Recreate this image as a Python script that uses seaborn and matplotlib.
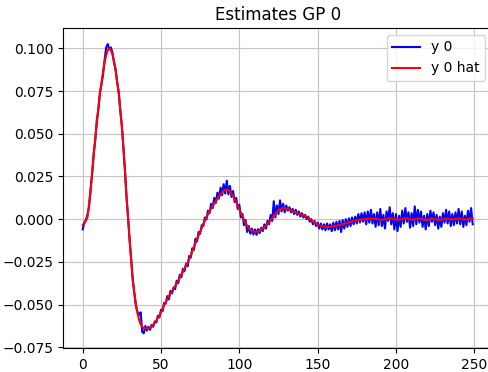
import matplotlib
matplotlib.use("Agg")
import matplotlib.pyplot as plt
import seaborn as sns
import pandas as pd
import numpy as np

steps = list(range(250))

y0 = [
    -0.0060, -0.0020, -0.0005, 0.0025, 0.0070, 0.0175, 0.0260, 0.0385, 0.0460, 0.0580,
    0.0640, 0.0745, 0.0790, 0.0845, 0.0935, 0.1005, 0.1025, 0.0995, 0.1005, 0.0975,
    0.0915, 0.0880, 0.0800, 0.0745, 0.0635, 0.0548, 0.0415, 0.0285, 0.0125, 0.0008,
    -0.0130, -0.0238, -0.0362, -0.0432, -0.0508, -0.0545, -0.0560, -0.0545, -0.0660, -0.0668,
    -0.0625, -0.0652, -0.0630, -0.0648, -0.0618, -0.0630, -0.0598, -0.0605, -0.0565, -0.0575,
    -0.0530, -0.0538, -0.0490, -0.0495, -0.0450, -0.0470, -0.0420, -0.0435, -0.0400, -0.0410,
    -0.0360, -0.0375, -0.0325, -0.0340, -0.0290, -0.0305, -0.0260, -0.0275, -0.0215, -0.0225,
    -0.0170, -0.0180, -0.0115, -0.0130, -0.0075, -0.0085, -0.0035, -0.0040, 0.0010, -0.0002,
    0.0050, 0.0035, 0.0090, 0.0065, 0.0125, 0.0095, 0.0155, 0.0120, 0.0185, 0.0140,
    0.0205, 0.0150, 0.0225, 0.0145, 0.0195, 0.0130, 0.0165, 0.0100, 0.0125, 0.0060,
    0.0085, 0.0010, 0.0030, -0.0035, -0.0005, -0.0075, -0.0040, -0.0085, -0.0055, -0.0090,
    -0.0060, -0.0092, -0.0058, -0.0082, -0.0050, -0.0070, -0.0030, -0.0055, -0.0010, -0.0030,
    0.0025, -0.0010, 0.0105, 0.0010, 0.0080, 0.0030, 0.0110, 0.0045, 0.0090, 0.0040,
    0.0080, 0.0050, 0.0070, 0.0040, 0.0060, 0.0030, 0.0055, 0.0025, 0.0045, 0.0015,
    0.0035, 0.0010, 0.0025, 0.0000, 0.0015, -0.0015, 0.0000, -0.0030, -0.0010, -0.0040,
    -0.0020, -0.0055, -0.0025, -0.0060, -0.0030, -0.0065, -0.0025, -0.0060, -0.0030, -0.0070,
    -0.0020, -0.0065, -0.0015, -0.0060, -0.0010, -0.0075, -0.0005, -0.0055, 0.0000, -0.0045,
    0.0005, -0.0040, 0.0010, -0.0030, 0.0015, -0.0025, 0.0030, -0.0020, 0.0035, -0.0015,
    0.0040, -0.0030, 0.0045, -0.0020, 0.0055, -0.0025, 0.0030, -0.0045, 0.0040, -0.0035,
    0.0060, -0.0040, 0.0025, -0.0055, 0.0045, -0.0010, 0.0070, -0.0030, 0.0035, -0.0060,
    0.0030, -0.0070, 0.0020, -0.0045, 0.0050, -0.0025, 0.0065, -0.0015, 0.0040, -0.0050,
    0.0035, -0.0040, 0.0075, -0.0030, 0.0055, -0.0020, 0.0045, -0.0045, 0.0020, -0.0060,
    0.0030, -0.0040, 0.0050, -0.0015, 0.0040, -0.0035, 0.0025, -0.0055, 0.0015, -0.0045,
    0.0035, -0.0020, 0.0055, -0.0025, 0.0045, -0.0040, 0.0030, -0.0035, 0.0040, -0.0025,
    0.0060, -0.0030, 0.0045, -0.0045, 0.0020, -0.0035, 0.0050, -0.0015, 0.0065, -0.0030,
]

y0_hat = [
    -0.0035, -0.0025, -0.0010, 0.0010, 0.0080, 0.0160, 0.0270, 0.0370, 0.0470, 0.0560,
    0.0650, 0.0730, 0.0800, 0.0865, 0.0920, 0.0960, 0.0990, 0.1000, 0.0990, 0.0965,
    0.0925, 0.0870, 0.0805, 0.0740, 0.0640, 0.0540, 0.0420, 0.0280, 0.0130, 0.0000,
    -0.0125, -0.0245, -0.0355, -0.0440, -0.0500, -0.0550, -0.0590, -0.0615, -0.0630, -0.0638,
    -0.0640, -0.0641, -0.0640, -0.0636, -0.0628, -0.0618, -0.0606, -0.0593, -0.0578, -0.0562,
    -0.0545, -0.0525, -0.0503, -0.0485, -0.0468, -0.0452, -0.0437, -0.0422, -0.0407, -0.0392,
    -0.0377, -0.0360, -0.0343, -0.0325, -0.0307, -0.0290, -0.0272, -0.0255, -0.0235, -0.0212,
    -0.0188, -0.0164, -0.0140, -0.0117, -0.0095, -0.0072, -0.0050, -0.0028, -0.0008, 0.0012,
    0.0030, 0.0047, 0.0063, 0.0078, 0.0092, 0.0106, 0.0120, 0.0133, 0.0145, 0.0157,
    0.0166, 0.0172, 0.0174, 0.0170, 0.0162, 0.0150, 0.0135, 0.0118, 0.0100, 0.0080,
    0.0058, 0.0036, 0.0015, -0.0005, -0.0023, -0.0040, -0.0053, -0.0062, -0.0068, -0.0072,
    -0.0074, -0.0074, -0.0072, -0.0068, -0.0062, -0.0055, -0.0047, -0.0038, -0.0028, -0.0017,
    -0.0006, 0.0006, 0.0018, 0.0030, 0.0042, 0.0052, 0.0059, 0.0063, 0.0065, 0.0065,
    0.0063, 0.0060, 0.0056, 0.0052, 0.0047, 0.0043, 0.0039, 0.0035, 0.0031, 0.0028,
    0.0025, 0.0022, 0.0018, 0.0013, 0.0007, 0.0000, -0.0007, -0.0014, -0.0020, -0.0026,
    -0.0031, -0.0035, -0.0039, -0.0042, -0.0044, -0.0045, -0.0046, -0.0046, -0.0045, -0.0044,
    -0.0042, -0.0040, -0.0038, -0.0036, -0.0034, -0.0032, -0.0030, -0.0027, -0.0024, -0.0021,
    -0.0018, -0.0015, -0.0012, -0.0010, -0.0008, -0.0006, -0.0004, -0.0003, -0.0002, -0.0001,
    0.0000, 0.0001, 0.0002, 0.0003, 0.0004, 0.0004, 0.0003, 0.0002, 0.0000, -0.0002,
    -0.0003, -0.0003, -0.0002, 0.0000, 0.0002, 0.0004, 0.0005, 0.0004, 0.0002, 0.0000,
    -0.0002, -0.0004, -0.0004, -0.0002, 0.0001, 0.0004, 0.0006, 0.0005, 0.0002, -0.0001,
    -0.0003, -0.0003, -0.0001, 0.0002, 0.0004, 0.0004, 0.0002, -0.0001, -0.0004, -0.0005,
    -0.0004, -0.0001, 0.0002, 0.0003, 0.0002, 0.0000, -0.0003, -0.0005, -0.0005, -0.0003,
    0.0000, 0.0003, 0.0004, 0.0003, 0.0001, -0.0001, -0.0002, -0.0001, 0.0001, 0.0003,
    0.0004, 0.0003, 0.0001, -0.0001, -0.0002, -0.0001, 0.0001, 0.0003, 0.0004, 0.0003,
]

series_labels = ["y 0", "y 0 hat"]
title = "Estimates GP 0"

df = pd.DataFrame({"step": steps, "y0": y0, "y0_hat": y0_hat})

fig = plt.figure(figsize=(4.88, 3.72), dpi=100)
ax = fig.add_axes([63.2 / 488, 24 / 372, 429 / 488, 320 / 372])

sns.lineplot(data=df, x="step", y="y0", color="blue", label=series_labels[0], ax=ax, linewidth=1.5)
sns.lineplot(data=df, x="step", y="y0_hat", color="red", label=series_labels[1], ax=ax, linewidth=1.5)

ax.set_xlim(-12.45, 261.45)
ax.set_ylim(-0.0754, 0.1119)
ax.set_yticks([-0.075, -0.05, -0.025, 0.0, 0.025, 0.05, 0.075, 0.1])
ax.set_xticks([0, 50, 100, 150, 200, 250])
ax.set_xlabel("")
ax.set_ylabel("")
ax.set_title(title, fontsize=12)
ax.grid(True, color="#c4c4c4")
ax.legend(loc="upper right")

fig.savefig("out.png", dpi=100)
